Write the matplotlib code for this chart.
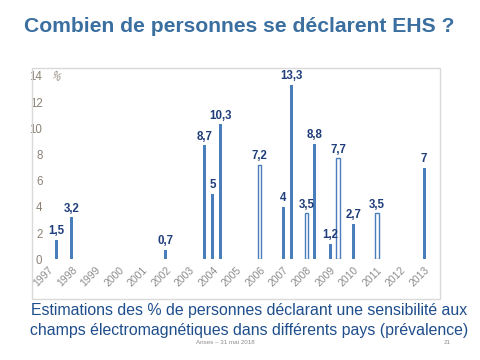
import matplotlib
matplotlib.use("Agg")
import matplotlib.pyplot as plt
from matplotlib.patches import Rectangle

years = list(range(1997, 2014))
bar_years = [1997, 1998, 2002, 2004, 2004, 2004, 2006, 2007, 2007, 2008, 2008, 2009, 2009, 2010, 2011, 2013]
bar_slots = [1, 0, 0, -1, 0, 1, 0, 0, 1, 0, 1, 0, 1, 0, 0, 0]
values = [1.5, 3.2, 0.7, 8.7, 5, 10.3, 7.2, 4, 13.3, 3.5, 8.8, 1.2, 7.7, 2.7, 3.5, 7]
hollow = [False, False, False, False, False, False, True, False, False, True, False, False, True, False, True, False]
yticks = [0, 2, 4, 6, 8, 10, 12, 14]

title = "Combien de personnes se déclarent EHS ?"
caption1 = "Estimations des % de personnes déclarant une sensibilité aux"
caption2 = "champs électromagnétiques dans différents pays (prévalence)"
footer = "Anses – 31 mai 2018"
page = "21"

plt.rcParams['font.family'] = ['Liberation Sans', 'DejaVu Sans']

W, H = 480, 360
fig = plt.figure(figsize=(4.8, 3.6), dpi=100)
fig.patch.set_facecolor('white')

def fx(px):
    return px / W

def fy(py):
    return 1 - py / H

# chart area border
fig.patches.append(Rectangle((fx(32.3), fy(299)), fx(440) - fx(32.3), fy(68.3) - fy(299),
                             transform=fig.transFigure, fill=False, edgecolor='#d9d9d9', lw=1.0))

ax = fig.add_axes([fx(48), fy(259.3), fx(436) - fx(48), fy(76) - fy(259.3)])
ax.set_xlim(1996.98, 2013.51)
ax.set_ylim(0, 14)
for s in ax.spines.values():
    s.set_visible(False)

blue = '#4a7ebb'
offset = 0.34
for yr, sl, v, h in zip(bar_years, bar_slots, values, hollow):
    x = yr + sl * offset
    if h:
        ax.bar(x, v, width=0.14, color='white', edgecolor=blue, linewidth=1.0)
    else:
        ax.bar(x, v, width=0.13, color=blue, edgecolor='none')
    lab = ('%g' % v).replace('.', ',')
    ax.annotate(lab, (x, v), xytext=(0, 2), textcoords='offset points', ha='center', va='bottom',
                fontsize=8.3, color='#1f3d7a', fontweight='bold')

ax.set_yticks(yticks)
ax.set_yticklabels([str(t) for t in yticks], fontsize=8.3, color='#8c8275')
ax.tick_params(axis='y', length=0, pad=4)
ax.set_xticks(years)
ax.set_xticklabels([str(y) for y in years], rotation=45, ha='right', rotation_mode='anchor',
                   fontsize=7.5, color='#8c8c8c')
ax.tick_params(axis='x', length=0, pad=4)

ax.text(0.02, 0.995, '%', transform=ax.transAxes, fontsize=7, color='#8c8275', rotation=-30,
        ha='center', va='center')

fig.text(fx(24), fy(27), title, fontsize=15.2, fontweight='bold', color='#3a6fa0', ha='left', va='center')
fig.text(fx(249), fy(310), caption1, fontsize=11.4, color='#1f4e8c', ha='center', va='center')
fig.text(fx(249), fy(330), caption2, fontsize=11.4, color='#1f4e8c', ha='center', va='center')
fig.text(fx(225), fy(343), footer, fontsize=4.5, color='#8c8c8c', ha='center', va='center')
fig.text(fx(447), fy(343), page, fontsize=4.5, color='#8c8c8c', ha='center', va='center')

fig.savefig('out.png', dpi=100)
